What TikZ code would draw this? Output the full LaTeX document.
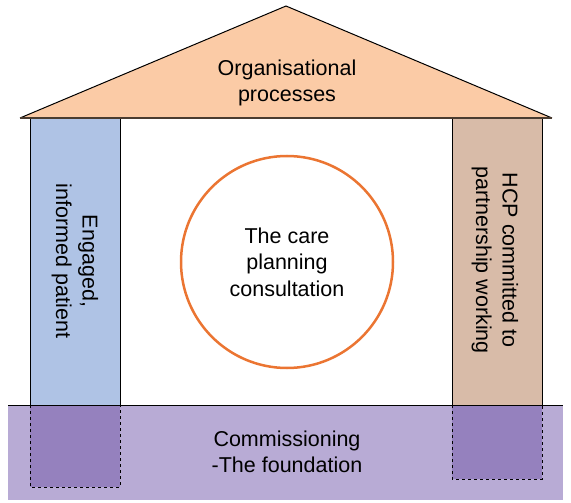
\documentclass[tikz,border=0pt]{standalone}
\usepackage{fontspec}
\setmainfont{Liberation Sans}
\definecolor{roofc}{HTML}{FBCBA6}
\definecolor{roofline}{HTML}{4A3C30}
\definecolor{leftc}{HTML}{AFC3E5}
\definecolor{rightc}{HTML}{D8BBA8}
\definecolor{foundc}{HTML}{B8ABD5}
\definecolor{footc}{HTML}{9581BE}
\definecolor{circc}{HTML}{EB7532}
\begin{document}
\begin{tikzpicture}[x=1pt,y=-1pt,
  lbl/.style={align=center,font=\fontsize{21.5}{26.5}\selectfont,inner sep=0pt},
  pillar/.style={draw=black,line width=1pt},
  footline/.style={dashed,line width=0.9pt}]
\useasboundingbox (0,0) rectangle (571,503);
% foundation
\fill[foundc] (8,405) rectangle (563,500);
\fill[footc] (30,405) rectangle (120,487);
\fill[footc] (452,405) rectangle (542,479);
\draw[footline] (30,405) -- (30,487) -- (120,487) -- (120,405);
\draw[footline] (452,405) -- (452,479) -- (542,479) -- (542,405);
% pillars
\fill[leftc] (30,118) rectangle (120,405);
\fill[rightc] (452,118) rectangle (542,405);
\draw[pillar] (30,118) -- (30,405);
\draw[pillar] (120,118) -- (120,405);
\draw[pillar] (452,118) -- (452,405);
\draw[pillar] (542,118) -- (542,405);
\draw[line width=1pt] (8,405) -- (563,405);
% roof
\fill[roofc] (20,118) -- (286,6) -- (552,118) -- cycle;
\draw[line width=1pt,line join=miter] (20,118) -- (286,6) -- (552,118);
\draw[roofline,line width=1.2pt] (20,118) -- (552,118);
\node[lbl] (roof) at (287,83) {Organisational\\processes};
% circle
\node[circle,draw=circc,line width=2.5pt,minimum size=212pt,inner sep=0pt] (circ) at (287,262) {};
\node[lbl] (care) at (circ.center) {The care\\planning\\consultation};
\node[lbl,rotate=-90] (pat) at (75,261) {Engaged,\\informed patient};
\node[lbl,rotate=-90] (hcp) at (495,260) {HCP committed to\\partnership working};
\node[lbl] (found) at (287,452) {Commissioning\\-The foundation};
\end{tikzpicture}
\end{document}
